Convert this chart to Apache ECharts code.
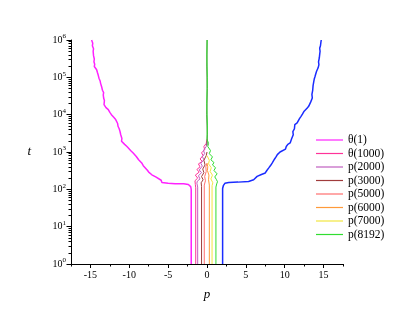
<!DOCTYPE html>
<html><head><meta charset="utf-8">
<script src="https://cdn.jsdelivr.net/npm/echarts@6/dist/echarts.min.js"></script>
<style>html,body{margin:0;padding:0;background:#fff}#c{width:398px;height:317px}</style>
</head><body><div id="c"></div>
<script>
// ---- data (p, t) ----
const theta1 = [[-2.03,1],[-2.03,100],[-2.1,118],[-2.4,135],[-3,142],[-4.1,141],[-5.0,145],[-5.8,152],[-5.9,175],[-6.0,190],[-6.6,215],[-7.1,245],[-7.3,265],[-7.5,290],[-7.7,330],[-7.9,360],[-8.2,430],[-8.1,470],[-8.4,510],[-8.6,560],[-8.8,620],[-8.75,680],[-9.1,760],[-9.3,850],[-9.5,940],[-9.6,1000],[-9.8,1080],[-10.0,1200],[-10.3,1400],[-10.4,1500],[-10.6,1600],[-10.8,1800],[-11.0,1950],[-10.9,2100],[-10.95,2300],[-11.1,2900],[-11.05,3200],[-11.2,3600],[-11.3,4200],[-11.45,4900],[-11.4,5300],[-11.5,5800],[-11.75,7400],[-11.8,7900],[-12.0,8500],[-12.1,9300],[-12.3,10000],[-12.35,10800],[-12.5,11500],[-12.6,12500],[-12.7,13700],[-12.85,14500],[-13.0,15500],[-13.1,17000],[-13.25,18600],[-13.15,21000],[-13.2,24000],[-13.3,28000],[-13.35,34000],[-13.3,39000],[-13.45,45000],[-13.55,55000],[-13.7,70000],[-13.75,80000],[-13.9,95000],[-14.0,115000],[-14.1,135000],[-14.2,160000],[-14.35,175000],[-14.5,195000],[-14.45,225000],[-14.55,260000],[-14.5,310000],[-14.6,380000],[-14.65,500000],[-14.6,580000],[-14.75,700000],[-14.7,820000],[-14.85,1000000]];
const theta1000 = [[-1.45,1],[-1.45,110],[-1.5,135],[-1.6,150],[-1.55,170],[-1.2,200],[-1.5,240],[-1.0,290],[-1.3,340],[-0.9,400],[-1.1,480],[-0.6,560],[-0.9,650],[-0.5,800],[-0.7,950],[-0.3,1150],[-0.4,1400],[-0.1,1700],[0,2200]];
const p2000 = [[-1.2,1],[-1.2,115],[-1.3,145],[-1.25,165],[-0.9,190],[-1.1,230],[-0.7,280],[-1.0,330],[-0.6,420],[-0.8,500],[-0.4,620],[-0.6,760],[-0.3,900],[-0.45,1100],[-0.1,1400],[0,1800]];
const p3000 = [[-0.7,1],[-0.7,120],[-0.75,150],[-0.5,180],[-0.7,220],[-0.4,280],[-0.55,350],[-0.25,450],[-0.4,600],[-0.1,800],[0,1000]];
const p5000 = [[-0.35,1],[-0.35,130],[-0.2,170],[-0.3,220],[-0.1,300],[-0.15,400],[0,500]];
const p6000 = [[0.3,1],[0.3,130],[0.2,180],[0.25,240],[0.05,320],[0.1,400],[0,500]];
const p7000 = [[0.65,1],[0.65,125],[0.75,150],[0.5,190],[0.7,240],[0.4,300],[0.55,380],[0.2,480],[0.3,600],[0,800]];
const p8192 = [[1.15,1],[1.15,115],[1.25,140],[1.35,160],[1.2,185],[1.0,215],[1.3,260],[0.9,320],[1.1,380],[0.7,450],[0.9,520],[0.5,620],[0.7,740],[0.3,900],[0.45,1100],[0.1,1400],[0.2,1700],[0,2200],[0.05,5000],[-0.03,20000],[0.04,100000],[-0.02,400000],[0.02,1000000]];
const blueCurve = [[2.01,1],[2.01,105],[2.1,125],[2.3,145],[2.8,152],[4,156],[5.35,163],[6.0,180],[6.45,222],[7.0,250],[7.5,275],[7.7,320],[7.95,375],[8.2,440],[8.4,510],[8.7,650],[8.9,750],[9.05,850],[9.4,1000],[9.6,1100],[10.1,1200],[10.2,1400],[10.4,1600],[10.7,1750],[10.95,1950],[10.9,2300],[11.1,2900],[11.05,3500],[11.25,4200],[11.3,5400],[11.6,6000],[11.8,6600],[11.9,7800],[12.1,9000],[12.3,10500],[12.5,12400],[12.7,13500],[12.9,15000],[13.1,17000],[13.25,18700],[13.35,22000],[13.55,28000],[13.5,35000],[13.6,45000],[13.65,60000],[13.75,79000],[13.8,90000],[13.9,105000],[14.0,125000],[14.1,146000],[14.3,180000],[14.4,219000],[14.35,260000],[14.45,330000],[14.5,410000],[14.55,500000],[14.5,600000],[14.6,700000],[14.65,850000],[14.7,1000000]];
const centerSpike = [[0,1500],[0.04,3000],[-0.03,10000],[0.03,50000],[-0.02,200000],[0.01,1000000]];

const xMajorTicks = [-15,-10,-5,0,5,10,15];
const xMinorTicks = [-17.5,-12.5,-7.5,-2.5,2.5,7.5,12.5,17.5];
const legendNames = ['θ(1)','θ(1000)','p(2000)','p(3000)','p(5000)','p(6000)','p(7000)','p(8192)'];

// minor log ticks (positions in exponent space)
const yMinor = [];
for (let e = 0; e < 6; e++) for (let k = 2; k <= 9; k++) yMinor.push(e + Math.log10(k));

const serif = 'Liberation Serif';
const chart = echarts.init(document.getElementById('c'), null, {renderer:'canvas'});

function line(name, data, color, w) {
  return {name, type:'line', data, symbol:'none', showSymbol:false, smooth:false,
    lineStyle:{color, width:w||1}, itemStyle:{color}, xAxisIndex:0, yAxisIndex:0, z: 2};
}

chart.setOption({
  animation:false,
  backgroundColor:'#fff',
  grid:{left:71, right:55, top:40, bottom:53, containLabel:false},
  legend:{
    data: legendNames, orient:'vertical', left:311, top:129,
    itemWidth:27, itemHeight:13, itemGap:1.5,
    textStyle:{fontFamily:serif, fontSize:11.5, color:'#000'},
    icon:'path://M0,6 L27,6 L27,7.2 L0,7.2 Z'
  },
  xAxis:[{
    type:'value', min:-17.5, max:17.5, position:'bottom',
    name:'p', nameLocation:'middle', nameGap:24,
    nameTextStyle:{fontFamily:serif, fontStyle:'italic', fontSize:13, color:'#000'},
    axisLine:{show:true, onZero:false, lineStyle:{color:'#000', width:1}},
    axisTick:{show:true, customValues:xMajorTicks, length:4, lineStyle:{color:'#000'}},
    axisLabel:{customValues:xMajorTicks, fontFamily:serif, fontSize:10, color:'#000', margin:6},
    splitLine:{show:false}
  },{
    type:'value', min:-17.5, max:17.5, position:'bottom', offset:0,
    axisLine:{show:false, onZero:false},
    axisTick:{show:true, customValues:xMinorTicks, length:2.5, lineStyle:{color:'#000'}},
    axisLabel:{show:false}, splitLine:{show:false}
  }],
  yAxis:[{
    type:'log', logBase:10, min:1, max:1000000, position:'left',
    name:'t', nameLocation:'middle', nameGap:40, nameRotate:0,
    nameTextStyle:{fontFamily:serif, fontStyle:'italic', fontSize:13, color:'#000'},
    axisLine:{show:true, onZero:false, lineStyle:{color:'#000', width:1}},
    axisTick:{show:true, length:4.5, lineStyle:{color:'#000'}},
    axisLabel:{
      margin:5, color:'#000',
      formatter:function(v){ const e = Math.round(Math.log10(v)); return '{b|10}{s|' + e + '}'; },
      rich:{ b:{fontFamily:serif, fontSize:10, color:'#000', lineHeight:14},
             s:{fontFamily:serif, fontSize:7, color:'#000', verticalAlign:'top', lineHeight:14} }
    },
    splitLine:{show:false}
  },{
    type:'value', min:0, max:6, position:'left', offset:0,
    axisLine:{show:false, onZero:false},
    axisTick:{show:true, customValues:yMinor, length:2.5, lineStyle:{color:'#000'}},
    axisLabel:{show:false}, splitLine:{show:false}
  }],
  series:[
    line('θ(1)', theta1, '#ff22ff', 1.5),
    line('blue', blueCurve, '#1a2cff', 1.5),
    line('θ(1000)', theta1000, '#ff3399'),
    line('p(2000)', p2000, '#c060c0'),
    line('p(3000)', p3000, '#a03c3c'),
    line('p(5000)', p5000, '#ff6f6f'),
    line('p(6000)', p6000, '#ff9a3a'),
    line('p(7000)', p7000, '#f2e640'),
    line('center', centerSpike, '#3f7a2a'),
    line('p(8192)', p8192, '#30dd30')
  ]
});
</script></body></html>
